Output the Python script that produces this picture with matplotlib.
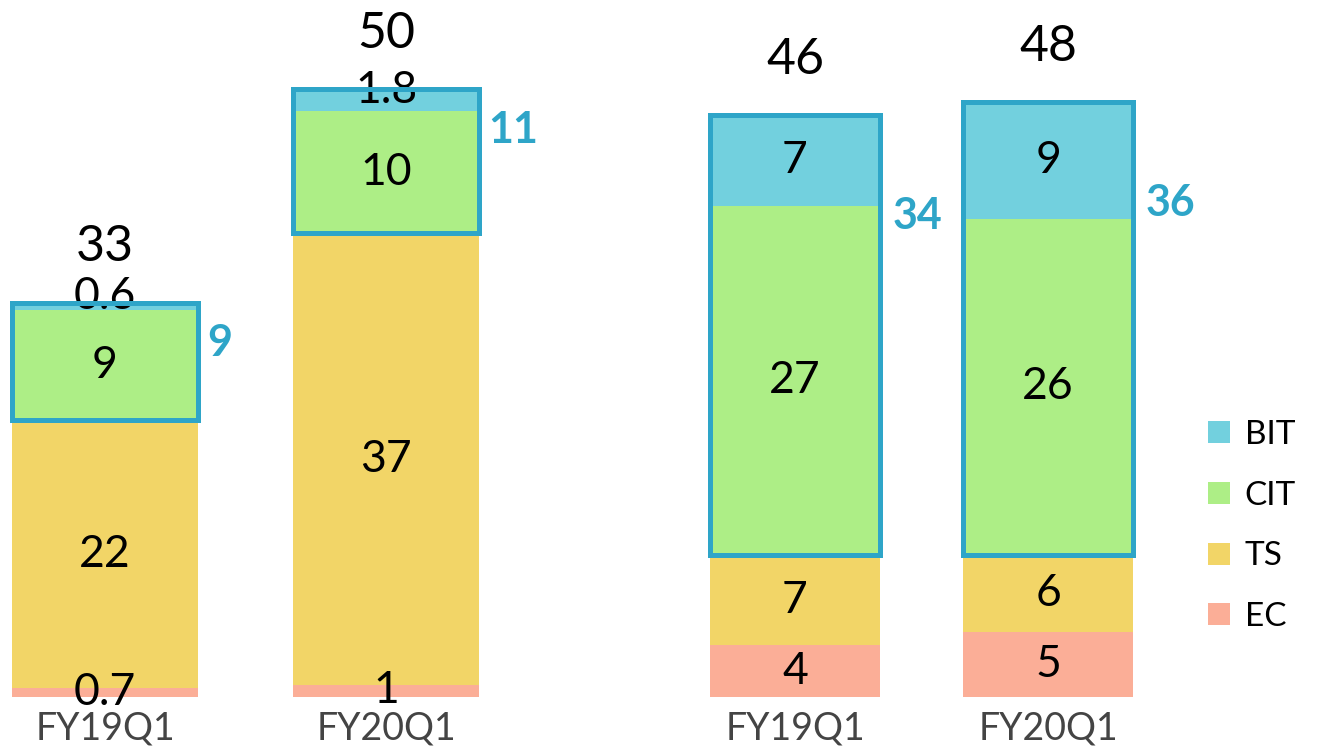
import matplotlib.pyplot as plt
from matplotlib.patches import Patch

plt.rcParams['font.family'] = ['Lato', 'DejaVu Sans']

# data
quarters = ['FY19Q1', 'FY20Q1']
segments = ['EC', 'TS', 'CIT', 'BIT']

left_ec = [0.7, 1]
left_ts = [22, 37]
left_cit = [9, 10]
left_bit = [0.6, 1.8]
left_total = [33, 50]
left_group = [9, 11]

right_ec = [4, 5]
right_ts = [7, 6]
right_cit = [27, 26]
right_bit = [7, 9]
right_total = [46, 48]
right_group = [34, 36]

colors = {'BIT': '#72D0DE', 'CIT': '#ADEE86', 'TS': '#F2D567', 'EC': '#FBAE97'}
blue = '#2EA5C8'

W, H = 1324, 754
fig = plt.figure(figsize=(W / 100, H / 100), dpi=100)


def panel(rect_px, ymax, xlim, ec, ts, cit, bit, total, group, width, side_dy, side_dx):
    x0, x1 = rect_px
    ax = fig.add_axes([x0 / W, 57 / H, (x1 - x0) / W, 697 / H])
    x = list(range(len(quarters)))
    stacks = [('EC', ec), ('TS', ts), ('CIT', cit), ('BIT', bit)]
    bottom = [0.0] * len(x)
    for name, vals in stacks:
        ax.bar(x, vals, width, bottom=bottom, color=colors[name], linewidth=0)
        for i, v in enumerate(vals):
            yc = bottom[i] + v / 2
            if name == 'BIT' and v < 2:
                # small top segment: lift the label a little
                yc = bottom[i] + v / 2 + 0.8
            ax.text(x[i], yc, f'{v:g}', ha='center', va='center', fontsize=32, color='black')
        bottom = [b + v for b, v in zip(bottom, vals)]
    # outline around CIT + BIT
    base = [e + t for e, t in zip(ec, ts)]
    hgt = [c + b for c, b in zip(cit, bit)]
    ax.bar(x, hgt, width, bottom=base, fill=False, edgecolor=blue, linewidth=3.6, zorder=3)
    for i in x:
        top = bottom[i]
        ax.annotate(f'{total[i]}', (x[i], top), xytext=(0, 40), textcoords='offset points',
                    ha='center', va='center', fontsize=36, color='black')
        ax.text(x[i] + width / 2 + side_dx, top - side_dy, f'{group[i]}', ha='left', va='center',
                fontsize=31, color=blue, fontweight='bold')
    ax.set_xlim(*xlim)
    ax.set_ylim(0, ymax)
    ax.set_xticks(x)
    ax.set_xticklabels(quarters, fontsize=27, color='#444444')
    ax.tick_params(axis='x', length=0, pad=10)
    ax.set_yticks([])
    for s in ax.spines.values():
        s.set_visible(False)
    ax.patch.set_alpha(0)
    return ax


panel((0, 500), 697 / 12.2, (-105 / 281, 395 / 281), left_ec, left_ts, left_cit, left_bit,
      left_total, left_group, 0.665, 3.3, 0.03)
panel((600, 1324), 697 / 12.93, (-195 / 253, 529 / 253), right_ec, right_ts, right_cit, right_bit,
      right_total, right_group, 0.668, 7.8, 0.05)

handles = [Patch(facecolor=colors[n], edgecolor='none') for n in ['BIT', 'CIT', 'TS', 'EC']]
fig.legend(handles, ['BIT', 'CIT', 'TS', 'EC'], loc='center left', bbox_to_anchor=(1178 / W, 1 - 526 / H),
           frameon=False, fontsize=24, handlelength=0.65, handleheight=0.65, labelspacing=0.92,
           handletextpad=0.45)

fig.savefig('out.png', dpi=100)
